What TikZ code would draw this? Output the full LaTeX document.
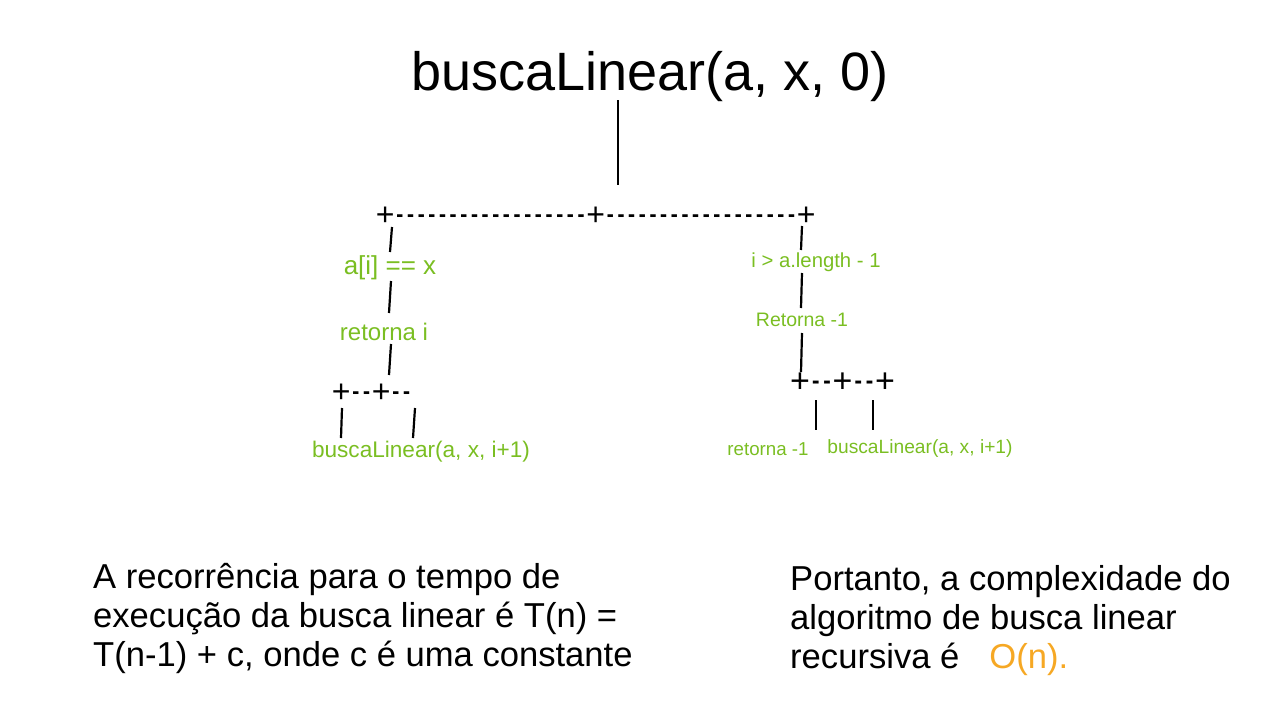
\documentclass[tikz,border=0pt]{standalone}
\usepackage{fontspec}
\setmainfont{Liberation Sans}
\definecolor{lime}{RGB}{122,190,34}
\definecolor{amber}{RGB}{246,168,36}
\newcommand\hyp{\makebox[0.333em]{\scalebox{0.7}[1.1]{-}}}
\begin{document}
\begin{tikzpicture}[x=1pt,y=-1pt,
  lbl/.style={text=lime, inner sep=0pt, anchor=center},
  txt/.style={inner sep=0pt, anchor=base west, font=\fontsize{34.6}{39}\selectfont},
  row/.style={inner sep=0pt, anchor=base west},
  stem/.style={line width=2.2pt},
  fs/.style={font=\fontsize{#1}{#1}\selectfont}]
\useasboundingbox (0,0) rectangle (1274,704);

% title
\node[inner sep=0pt, anchor=base, fs=54] (root) at (650,90) {buscaLinear(a, x, 0)};
\coordinate (r1) at (618,100);
\coordinate (r2) at (618,185);
\draw[line width=1.6pt] (r1) -- (r2);

% top row
\node[row, fs=32] (top) at (375.7,225) {+\hyp\hyp\hyp\hyp\hyp\hyp\hyp\hyp\hyp\hyp\hyp\hyp\hyp\hyp\hyp\hyp\hyp\hyp+\hyp\hyp\hyp\hyp\hyp\hyp\hyp\hyp\hyp\hyp\hyp\hyp\hyp\hyp\hyp\hyp\hyp\hyp+};

% left branch
\node[lbl, fs=26] (la) at (390,268) {a[i] == x};
\node[lbl, fs=24] (lb) at (384,332) {retorna i};
\node[row, fs=32] (lrow) at (331.7,402) {+\hyp\hyp+\hyp\hyp};
\node[lbl, fs=22.6] (lc) at (421,452) {buscaLinear(a, x, i+1)};
\coordinate (l1a) at (392,227); \coordinate (l1b) at (390,252);
\coordinate (l2a) at (391,281); \coordinate (l2b) at (389,313);
\coordinate (l3a) at (391,344); \coordinate (l3b) at (389,375);
\coordinate (l4a) at (342,408); \coordinate (l4b) at (341,438);
\coordinate (l5a) at (415,408); \coordinate (l5b) at (413,438);
\draw[stem] (l1a) -- (l1b);
\draw[stem] (l2a) -- (l2b);
\draw[stem] (l3a) -- (l3b);
\draw[stem] (l4a) -- (l4b);
\draw[stem] (l5a) -- (l5b);

% right branch
\node[lbl, fs=20.3] (ra) at (816,262) {i > a.length - 1};
\node[lbl, fs=19.5] (rb) at (802,320) {Retorna -1};
\node[row, fs=34] (rrow) at (790,392) {+\hyp\hyp+\hyp\hyp+};
\node[lbl, fs=18.7] (rc) at (768,449) {retorna -1};
\node[lbl, fs=19.2] (rd) at (920,449) {buscaLinear(a, x, i+1)};
\coordinate (q1a) at (802,226); \coordinate (q1b) at (801,250);
\coordinate (q2a) at (802,273); \coordinate (q2b) at (801,308);
\coordinate (q3a) at (802,333); \coordinate (q3b) at (801,372);
\coordinate (q4a) at (816,400); \coordinate (q4b) at (816,430);
\coordinate (q5a) at (873,400); \coordinate (q5b) at (873,430);
\draw[stem] (q1a) -- (q1b);
\draw[stem] (q2a) -- (q2b);
\draw[stem] (q3a) -- (q3b);
\draw[stem] (q4a) -- (q4b);
\draw[stem] (q5a) -- (q5b);

% bottom texts
\node[txt] (t1) at (93,588) {A recorrência para o tempo de};
\node[txt] (t2) at (93,627) {execução da busca linear é T(n) =};
\node[txt] (t3) at (93,666) {T(n-1) + c, onde c é uma constante};
\node[txt] (p1) at (790,590) {Portanto, a complexidade do};
\node[txt] (p2) at (790,629) {algoritmo de busca linear};
\node[txt] (p3) at (790,668) {recursiva é\hspace{30pt}\textcolor{amber}{O(n).}};
\end{tikzpicture}
\end{document}
